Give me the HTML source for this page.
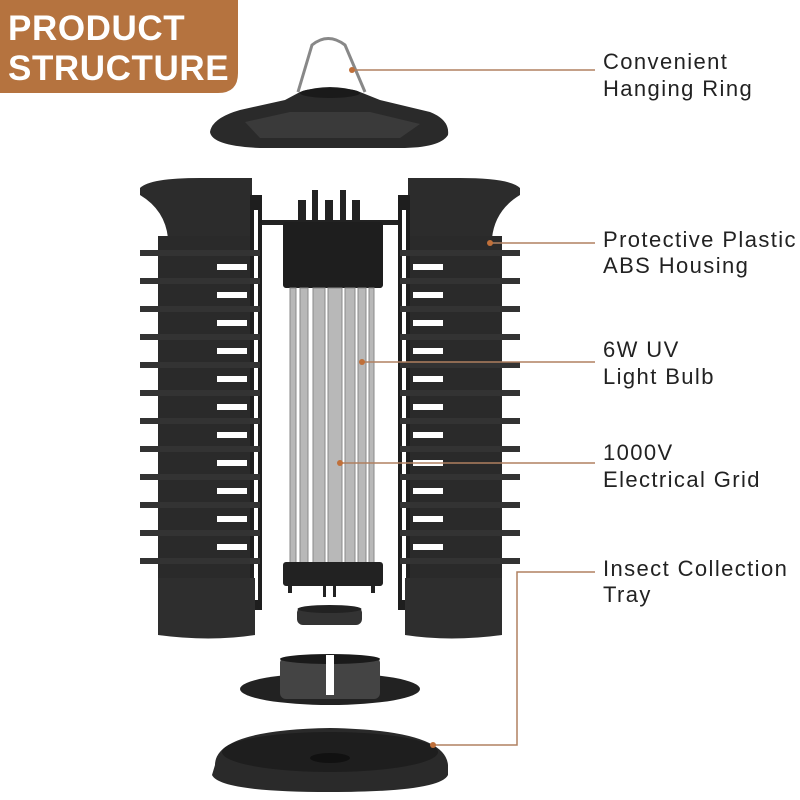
<!DOCTYPE html>
<html><head><style>
body{margin:0;background:#fff;}
svg{display:block}
text{font-family:"Liberation Sans",sans-serif;}
</style></head><body>
<svg width="800" height="800" viewBox="0 0 800 800" xmlns="http://www.w3.org/2000/svg">
<rect width="800" height="800" fill="#fff"/>
<path d="M0 0H238V73Q238 93 218 93H0Z" fill="#b5733f"/>
<text x="8" y="40" font-size="35" font-weight="bold" fill="#fff" letter-spacing="0.6">PRODUCT</text>
<text x="8" y="80" font-size="35" font-weight="bold" fill="#fff" letter-spacing="0.6">STRUCTURE</text>

<path d="M298 92 L312 45 Q328 32 345 45 L365 92" fill="none" stroke="#888" stroke-width="3"/>
<path d="M300 92 Q330 82 360 92 L380 100 L430 112 Q450 120 448 135 Q440 148 400 148 L260 148 Q212 146 210 132 Q212 118 240 110 L285 100 Z" fill="#2a2a2a"/>
<path d="M245 122 L290 112 L370 112 L420 124 L400 138 L260 138 Z" fill="#3a3a3a"/>
<ellipse cx="330" cy="93" rx="30" ry="5" fill="#1a1a1a"/>

<g>
<path d="M140 188 Q150 178 200 178 L252 178 L252 238 L168 238 Q165 210 140 195 Z" fill="#2c2c2c"/>
<rect x="158" y="236" width="92" height="345" fill="#2a2a2a"/>
<rect x="250" y="195" width="12" height="415" fill="#1e1e1e"/>
<rect x="254" y="210" width="4" height="390" fill="#fff"/>
<rect x="140" y="240" width="18" height="335" fill="#fff"/>
<g id="slatsL">
<rect x="140" y="250" width="120" height="6" fill="#333"/>
<rect x="140" y="278" width="120" height="6" fill="#333"/>
<rect x="140" y="306" width="120" height="6" fill="#333"/>
<rect x="140" y="334" width="120" height="6" fill="#333"/>
<rect x="140" y="362" width="120" height="6" fill="#333"/>
<rect x="140" y="390" width="120" height="6" fill="#333"/>
<rect x="140" y="418" width="120" height="6" fill="#333"/>
<rect x="140" y="446" width="120" height="6" fill="#333"/>
<rect x="140" y="474" width="120" height="6" fill="#333"/>
<rect x="140" y="502" width="120" height="6" fill="#333"/>
<rect x="140" y="530" width="120" height="6" fill="#333"/>
<rect x="140" y="558" width="120" height="6" fill="#333"/>
</g>
<g fill="#fff">
<rect x="217" y="264" width="30" height="6"/><rect x="217" y="292" width="30" height="6"/>
<rect x="217" y="320" width="30" height="6"/><rect x="217" y="348" width="30" height="6"/>
<rect x="217" y="376" width="30" height="6"/><rect x="217" y="404" width="30" height="6"/>
<rect x="217" y="432" width="30" height="6"/><rect x="217" y="460" width="30" height="6"/>
<rect x="217" y="488" width="30" height="6"/><rect x="217" y="516" width="30" height="6"/>
<rect x="217" y="544" width="30" height="6"/>
</g>
<path d="M158 578 L255 578 L255 635 Q210 642 158 635 Z" fill="#2e2e2e"/>
</g>

<g transform="translate(660,0) scale(-1,1)">
<path d="M140 188 Q150 178 200 178 L252 178 L252 238 L168 238 Q165 210 140 195 Z" fill="#2c2c2c"/>
<rect x="158" y="236" width="92" height="345" fill="#2a2a2a"/>
<rect x="250" y="195" width="12" height="415" fill="#1e1e1e"/>
<rect x="254" y="210" width="4" height="390" fill="#fff"/>
<rect x="140" y="240" width="18" height="335" fill="#fff"/>
<use href="#slatsL"/>
<g fill="#fff">
<rect x="217" y="264" width="30" height="6"/><rect x="217" y="292" width="30" height="6"/>
<rect x="217" y="320" width="30" height="6"/><rect x="217" y="348" width="30" height="6"/>
<rect x="217" y="376" width="30" height="6"/><rect x="217" y="404" width="30" height="6"/>
<rect x="217" y="432" width="30" height="6"/><rect x="217" y="460" width="30" height="6"/>
<rect x="217" y="488" width="30" height="6"/><rect x="217" y="516" width="30" height="6"/>
<rect x="217" y="544" width="30" height="6"/>
</g>
<path d="M158 578 L255 578 L255 635 Q210 642 158 635 Z" fill="#2e2e2e"/>
</g>

<rect x="262" y="220" width="136" height="5" fill="#222"/>
<rect x="298" y="200" width="8" height="25" fill="#222"/>
<rect x="312" y="190" width="6" height="35" fill="#222"/>
<rect x="325" y="200" width="8" height="25" fill="#222"/>
<rect x="340" y="190" width="6" height="35" fill="#222"/>
<rect x="352" y="200" width="8" height="25" fill="#222"/>
<rect x="283" y="222" width="100" height="66" rx="3" fill="#1e1e1e"/>
<g fill="#b8b8b8" stroke="#8a8a8a" stroke-width="1">
<rect x="290" y="288" width="6" height="275"/>
<rect x="300" y="288" width="8" height="275"/>
<rect x="313" y="288" width="12" height="275"/>
<rect x="328" y="288" width="14" height="275"/>
<rect x="345" y="288" width="10" height="275"/>
<rect x="358" y="288" width="8" height="275"/>
<rect x="369" y="288" width="5" height="275"/>
</g>
<rect x="283" y="562" width="100" height="24" rx="3" fill="#222"/>
<rect x="288" y="585" width="4" height="8" fill="#222"/><rect x="371" y="585" width="4" height="8" fill="#222"/>
<rect x="323" y="585" width="3" height="12" fill="#222"/><rect x="333" y="585" width="3" height="12" fill="#222"/>

<rect x="297" y="607" width="65" height="18" rx="6" fill="#333"/>
<ellipse cx="329.5" cy="609" rx="32" ry="4" fill="#222"/>

<ellipse cx="330" cy="689" rx="90" ry="16" fill="#222"/>
<rect x="280" y="657" width="100" height="42" rx="6" fill="#444"/>
<ellipse cx="330" cy="659" rx="50" ry="5" fill="#1a1a1a"/>
<rect x="326" y="655" width="8" height="40" fill="#fff"/>

<path d="M215 765 Q215 730 330 728 Q445 730 448 765 L448 775 Q440 792 330 792 Q220 792 212 775 Z" fill="#2a2a2a"/>
<ellipse cx="330" cy="752" rx="108" ry="20" fill="#1e1e1e"/>
<ellipse cx="330" cy="758" rx="20" ry="5" fill="#111"/>

<g stroke="#b08060" stroke-width="1.5" fill="none">
<path d="M352 70 H595"/>
<path d="M490 243 H595"/>
<path d="M362 362 H595"/>
<path d="M340 463 H595"/>
<path d="M433 745 H517 V572 H595"/>
</g>
<g fill="#c0703a">
<circle cx="352" cy="70" r="3"/><circle cx="490" cy="243" r="3"/>
<circle cx="362" cy="362" r="3"/><circle cx="340" cy="463" r="3"/>
<circle cx="433" cy="745" r="3"/>
</g>

<g font-size="22" fill="#222" letter-spacing="1.4">
<text x="603" y="69">Convenient</text><text x="603" y="96">Hanging Ring</text>
<text x="603" y="247">Protective Plastic</text><text x="603" y="273">ABS Housing</text>
<text x="603" y="357">6W UV</text><text x="603" y="384">Light Bulb</text>
<text x="603" y="460">1000V</text><text x="603" y="487">Electrical Grid</text>
<text x="603" y="576">Insect Collection</text><text x="603" y="602">Tray</text>
</g>
</svg>
</body></html>
